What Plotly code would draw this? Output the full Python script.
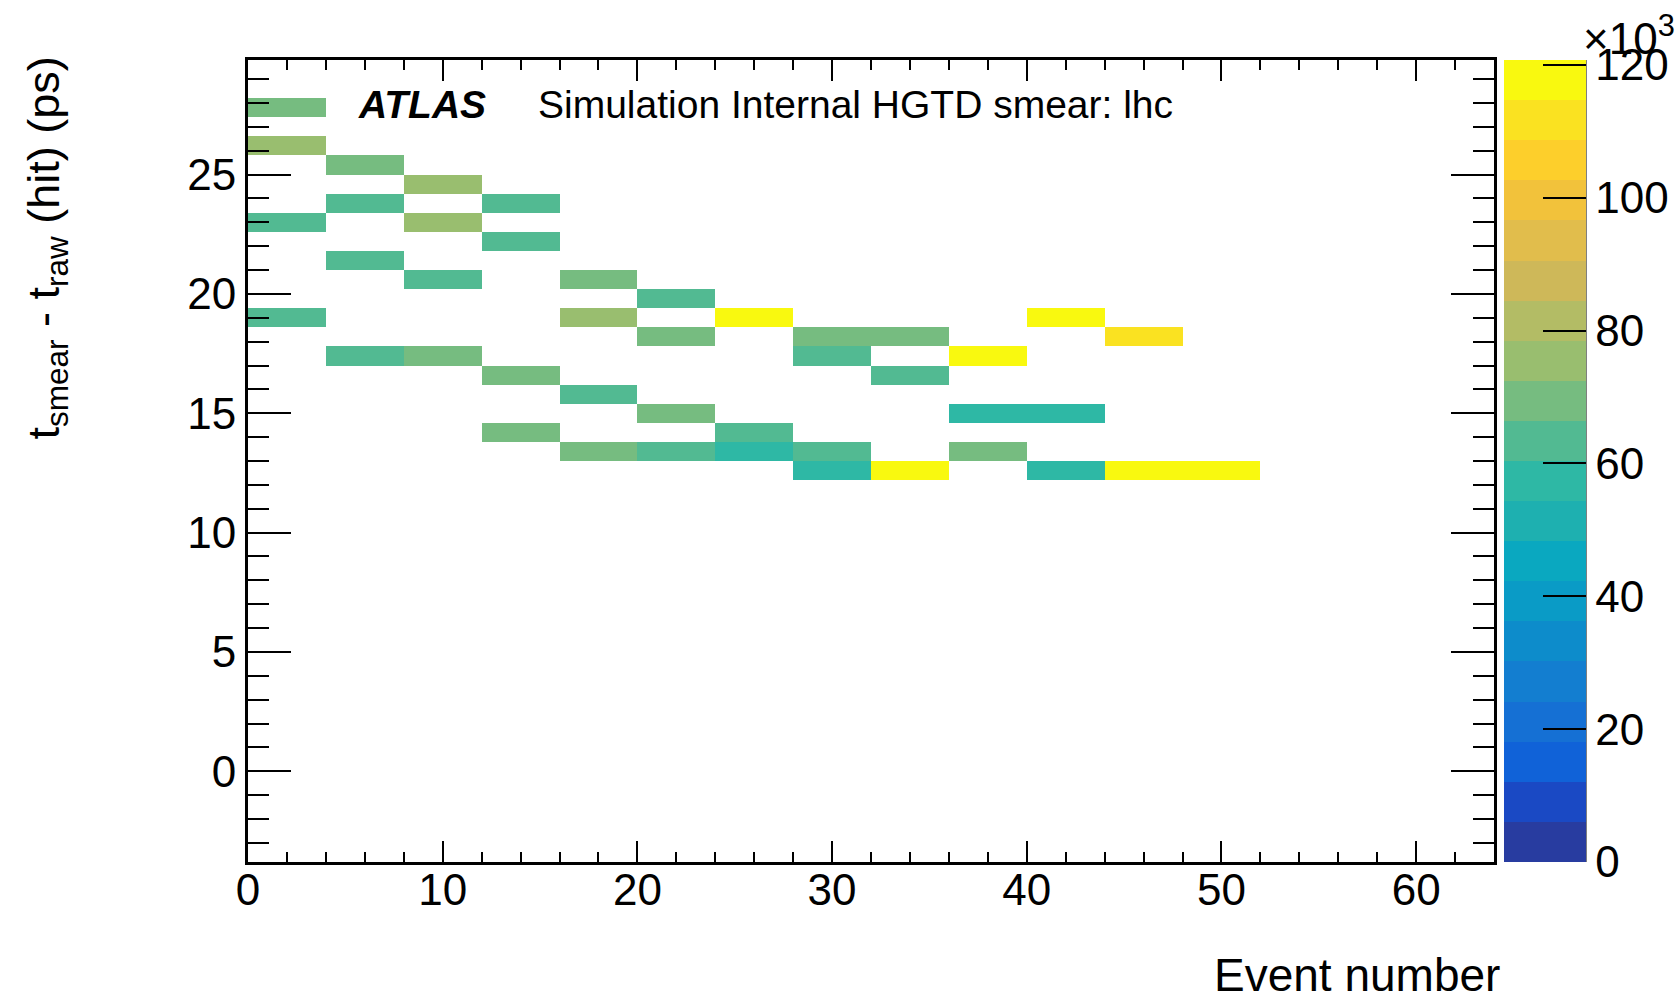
import numpy as np
import plotly.graph_objects as go

# ---- histogram definition -------------------------------------------------
x_edges = np.arange(0, 64 + 4, 4)                 # event number bins (width 4)
y_edges = -3.8 + 0.8 * np.arange(43)              # t_smear - t_raw bins (0.8 ps)

# filled cells: event-bin centre, time-bin centre, entries
cell_event = [2, 2, 2, 2,
              6, 6, 6, 6,
              10, 10, 10, 10,
              14, 14, 14, 14,
              18, 18, 18, 18,
              22, 22, 22, 22,
              26, 26, 26,
              30, 30, 30, 30,
              34, 34, 34,
              38, 38, 38,
              42, 42, 42,
              46, 46,
              50]
cell_dt = [27.8, 26.2, 23.0, 19.0,
           25.4, 23.8, 21.4, 17.4,
           24.6, 23.0, 20.6, 17.4,
           23.8, 22.2, 16.6, 14.2,
           20.6, 19.0, 15.8, 13.4,
           19.8, 18.2, 15.0, 13.4,
           19.0, 14.2, 13.4,
           18.2, 17.4, 13.4, 12.6,
           18.2, 16.6, 12.6,
           17.4, 15.0, 13.4,
           19.0, 15.0, 12.6,
           18.2, 12.6,
           12.6]
cell_counts = [69500, 75500, 63500, 63000,
               69000, 63500, 63000, 64000,
               75000, 75500, 63500, 69500,
               63000, 63500, 69500, 69000,
               69500, 75500, 63500, 69500,
               63500, 69500, 69000, 63500,
               118500, 63000, 58000,
               69500, 63500, 63000, 58000,
               69500, 63500, 120750,
               118000, 58500, 69500,
               118500, 58000, 58500,
               112000, 119000,
               118500]

# colour axis
cbar_ticks = [0, 20000, 40000, 60000, 80000, 100000, 120000]
cbar_labels = ["0", "20", "40", "60", "80", "100", "120"]
n_contours = 20
bird_levels = ["#283CA0", "#1A49C4", "#1062D8", "#1570D4", "#137ED0",
               "#0D8CCB", "#0A9BC6", "#0AA8C0", "#1EB0B0", "#2EB8A5",
               "#52BA92", "#76BC80", "#99BE6F", "#B3BC65", "#CEB859",
               "#E1BD4C", "#F2C23B", "#FDCF2B", "#FAE221", "#F9F90F"]

x_ticks = [0, 10, 20, 30, 40, 50, 60]
y_ticks = [0, 5, 10, 15, 20, 25]

# ---- build the 2D grid ----------------------------------------------------
x_centers = 0.5 * (x_edges[:-1] + x_edges[1:])
y_centers = 0.5 * (y_edges[:-1] + y_edges[1:])
z = np.full((len(y_centers), len(x_centers)), np.nan)
for ev, dt, n in zip(cell_event, cell_dt, cell_counts):
    ix = int(np.argmin(np.abs(x_centers - ev)))
    iy = int(np.argmin(np.abs(y_centers - dt)))
    z[iy, ix] = n
z_list = [[None if np.isnan(v) else float(v) for v in row] for row in z]

zmax = max(cell_counts)
colorscale = []
for k, c in enumerate(bird_levels):
    colorscale.append([k / n_contours, c])
    colorscale.append([(k + 1) / n_contours, c])

FONT = "Liberation Sans, Arial, Helvetica, sans-serif"

# plot-area geometry in pixels
L, R, T, B = 248, 1494, 60, 862
W, H = R - L, B - T


def px(x):
    return (x - L) / W


def py(y):
    return (B - y) / H


fig = go.Figure(go.Heatmap(
    x=x_centers, y=y_centers, z=z_list,
    zmin=0, zmax=zmax, colorscale=colorscale,
    hoverongaps=False,
    colorbar=dict(
        x=px(1503.5), xanchor="left", xpad=0,
        y=0.5, yanchor="middle", ypad=0,
        len=1, lenmode="fraction",
        thickness=82, thicknessmode="pixels",
        outlinewidth=0,
        ticks="inside", ticklen=43, tickwidth=2, tickcolor="black",
        tickvals=cbar_ticks, ticktext=cbar_labels,
        tickfont=dict(family=FONT, size=44, color="black"),
    ),
))

axis_common = dict(
    showline=True, linecolor="black", linewidth=3,
    mirror="allticks", ticks="inside", tickwidth=2, tickcolor="black",
    showgrid=False, zeroline=False,
    tickfont=dict(family=FONT, size=44, color="black"),
)
fig.update_xaxes(range=[0, 64], tickvals=x_ticks, ticklen=21,
                 ticklabelstandoff=-13,
                 minor=dict(ticks="inside", dtick=2, tick0=0, ticklen=10,
                            tickwidth=2, tickcolor="black", showgrid=False),
                 **axis_common)
fig.update_yaxes(range=[-3.8, 29.8], tickvals=y_ticks, ticklen=43,
                 minor=dict(ticks="inside", dtick=1, tick0=0, ticklen=21,
                            tickwidth=2, tickcolor="black", showgrid=False),
                 **axis_common)

# right edge of the colour scale axis
fig.add_shape(type="line", xref="paper", yref="paper",
              x0=px(1585), x1=px(1585), y0=0, y1=1,
              line=dict(color="black", width=3))

annotations = [
    dict(text="<b><i>ATLAS</i></b>", x=px(356), y=py(104),
         xanchor="left", yanchor="middle", font=dict(family=FONT, size=39)),
    dict(text="Simulation Internal HGTD smear: lhc", x=px(536),
         y=py(104), xanchor="left", yanchor="middle",
         font=dict(family=FONT, size=39)),
    dict(text="Event number", x=px(1502), y=py(975),
         xanchor="right", yanchor="middle", font=dict(family=FONT, size=46)),
    dict(text="t<sub>smear</sub> - t<sub>raw</sub> (hit) (ps)", textangle=-90,
         x=px(46), y=py(55),
         xanchor="center", yanchor="top", font=dict(family=FONT, size=45)),
    dict(text="×10<sup>3</sup>", x=px(1677), y=py(6),
         xanchor="right", yanchor="top", font=dict(family=FONT, size=44)),
]
for a in annotations:
    a.setdefault("xref", "paper")
    a.setdefault("yref", "paper")
    a.setdefault("showarrow", False)
    a["font"]["color"] = "black"
fig.update_layout(annotations=annotations)

fig.update_layout(
    width=1676, height=997,
    margin=dict(l=L, r=1676 - R, t=T, b=997 - B, autoexpand=False),
    paper_bgcolor="white", plot_bgcolor="white",
    font=dict(family=FONT, color="black"),
    showlegend=False,
)

fig.write_html("out.html")
